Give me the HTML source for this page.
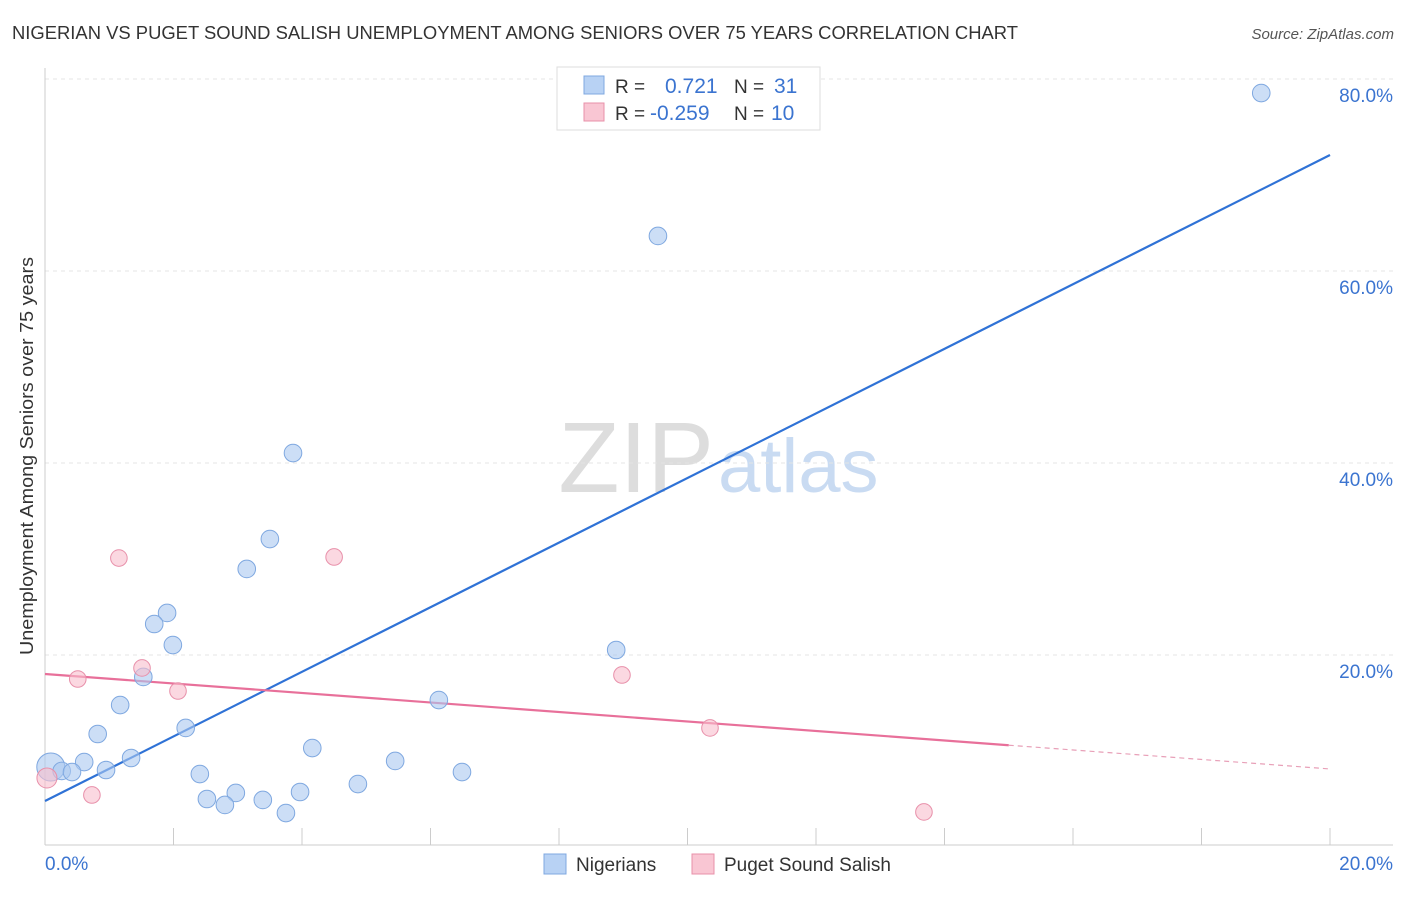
<!DOCTYPE html>
<html><head><meta charset="utf-8"><style>
body{margin:0;background:#fff;font-family:"Liberation Sans",sans-serif;}
svg text{font-family:"Liberation Sans",sans-serif;}
</style></head><body>
<svg id="c" width="1406" height="892" xmlns="http://www.w3.org/2000/svg">
<text x="12" y="39" font-size="18" fill="#333" textLength="1006" lengthAdjust="spacingAndGlyphs">NIGERIAN VS PUGET SOUND SALISH UNEMPLOYMENT AMONG SENIORS OVER 75 YEARS CORRELATION CHART</text>
<text x="1394" y="39" font-size="15" fill="#555" font-style="italic" text-anchor="end">Source: ZipAtlas.com</text>
<text x="714" y="492" font-size="100" fill="#ddd" text-anchor="end" font-family="Liberation Serif">ZIP</text>
<text x="718" y="492" font-size="76" fill="#c9dbf2">atlas</text>
<text transform="translate(33,456) rotate(-90)" font-size="18" fill="#333" text-anchor="middle" textLength="398" lengthAdjust="spacingAndGlyphs">Unemployment Among Seniors over 75 years</text>
<g id="grid"></g><g id="trend"></g><g id="pts"></g>
<g>
<rect x="557" y="67" width="263" height="63" fill="#fff" stroke="#ddd"/>
<rect x="584" y="76" width="20" height="18" fill="#b8d2f4" stroke="#7fa8e0"/>
<text x="615" y="93" font-size="19" fill="#333">R =</text><text x="665" y="93" font-size="21" fill="#3b74d0">0.721</text>
<text x="734" y="93" font-size="19" fill="#333">N =</text><text x="774" y="93" font-size="21" fill="#3b74d0">31</text>
<rect x="584" y="103" width="20" height="18" fill="#f9c6d3" stroke="#e890aa"/>
<text x="615" y="120" font-size="19" fill="#333">R =</text><text x="650" y="120" font-size="21" fill="#3b74d0">-0.259</text>
<text x="734" y="120" font-size="19" fill="#333">N =</text><text x="771" y="120" font-size="21" fill="#3b74d0">10</text>
</g>
<g>
<rect x="544" y="854" width="22" height="20" fill="#b8d2f4" stroke="#7fa8e0"/>
<text x="576" y="871" font-size="19" fill="#333">Nigerians</text>
<rect x="692" y="854" width="22" height="20" fill="#f9c6d3" stroke="#e890aa"/>
<text x="724" y="871" font-size="19" fill="#333">Puget Sound Salish</text>
</g>
</svg>
<script>
const blueX=[18.93,9.54,3.86,3.50,3.14,1.90,1.70,1.99,8.89,1.53,1.17,6.13,0.82,2.19,4.16,1.34,0.61,0.95,0.09,0.26,0.42,5.45,6.49,2.41,4.87,2.97,3.97,2.52,2.80,3.39,3.75];
const blueY=[78.54,63.65,41.04,32.08,28.96,24.38,23.23,21.04,20.52,17.71,14.79,15.31,11.77,12.40,10.31,9.27,8.85,8.02,8.33,7.92,7.81,8.96,7.81,7.60,6.56,5.63,5.73,5.0,4.38,4.90,3.54];
const pinkX=[1.15,4.50,0.51,1.51,2.07,8.98,10.35,0.73,13.68,0.03];
const pinkY=[30.10,30.21,17.5,18.65,16.25,17.92,12.40,5.42,3.65,7.19];
const yTicks=[20,40,60,80];
const yTickLabels=["20.0%","40.0%","60.0%","80.0%"];
const blueTrend=[4.79,72.08];
const pinkTrend=[18.02,8.13];
const pinkSolidEnd=15;
const NS='http://www.w3.org/2000/svg';
const sx=v=>45+v/20*1285, sy=v=>847-v*9.6;
function mk(t,a,p){const e=document.createElementNS(NS,t);for(const k in a)e.setAttribute(k,a[k]);p.appendChild(e);return e;}
const g=document.getElementById('grid');
yTicks.forEach((t,i)=>{
 const l=mk('line',{x1:45,x2:1393,y1:sy(t),y2:sy(t),stroke:'#e4e4e4','stroke-dasharray':'4,4'},g);
 
 
 const tx=mk('text',{x:1393,y:sy(t)+23,'font-size':19,fill:'#3b74d0','text-anchor':'end'},g);
 tx.textContent=yTickLabels[i];
 
 
});
const ax=mk('line',{x1:45,x2:45,y1:68,y2:845,stroke:'#ccc'},g);


const bx=mk('line',{x1:45,x2:1393,y1:845,y2:845,stroke:'#ccc'},g);


for(let i=0;i<=10;i++){const t=mk('line',{x1:sx(i*2),x2:sx(i*2),y1:828,y2:845,stroke:'#ccc'},g);
 
 }
[[0,"0.0%","start",45],[20,"20.0%","end",1393]].forEach(d=>{const t=mk('text',{x:d[3],y:870,'font-size':19,fill:'#3b74d0','text-anchor':d[2]},g);t.textContent=d[1];
 
 });
const tr=document.getElementById('trend');
const bl=mk('line',{x1:sx(0),y1:sy(blueTrend[0]),x2:sx(20),y2:sy(blueTrend[1]),stroke:'#2f72d6','stroke-width':2.2},tr);


const pm=pinkTrend[0]+(pinkTrend[1]-pinkTrend[0])*pinkSolidEnd/20;
const pl=mk('line',{x1:sx(0),y1:sy(pinkTrend[0]),x2:sx(pinkSolidEnd),y2:sy(pm),stroke:'#e8709a','stroke-width':2.2},tr);


const pd=mk('line',{x1:sx(pinkSolidEnd),y1:sy(pm),x2:sx(20),y2:sy(pinkTrend[1]),stroke:'#e8a0b8','stroke-width':1.2,'stroke-dasharray':'5,4'},tr);


const P=document.getElementById('pts');
blueX.forEach((x,i)=>{const c=mk('circle',{cx:sx(x),cy:sy(blueY[i]),r:i==18?14:8.8,fill:'rgba(170,200,240,0.6)',stroke:'#7fa8e0','stroke-width':1},P);
 
 });
pinkX.forEach((x,i)=>{const c=mk('circle',{cx:sx(x),cy:sy(pinkY[i]),r:i==9?10:8.3,fill:'rgba(248,190,205,0.6)',stroke:'#e890aa','stroke-width':1},P);
 
 });
</script>
</body></html>
